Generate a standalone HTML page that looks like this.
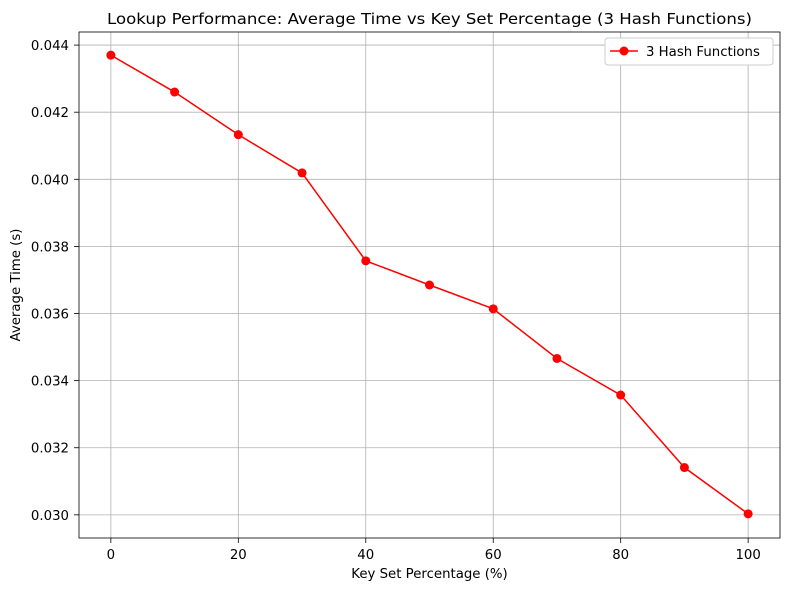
<!DOCTYPE html>
<html><head><meta charset="utf-8"><style>
body{margin:0;background:#fff;}
svg text{font-family:"DejaVu Sans","Liberation Sans",sans-serif;fill:#000;}
</style></head><body>
<svg id="chart" width="790" height="590" xmlns="http://www.w3.org/2000/svg"></svg>
<script>
const xValues=[0,10,20,30,40,50,60,70,80,90,100];
const yValues=[0.04370,0.04260,0.04133,0.04019,0.03757,0.03685,0.03614,0.03466,0.03357,0.03141,0.03003];
const xTicks=[0,20,40,60,80,100];
const yTicks=[0.030,0.032,0.034,0.036,0.038,0.040,0.042,0.044];
const L=79,R=780,T=32,B=538;
const xMin=-5,xMax=105,yMin=0.02931,yMax=0.04439;
const sx=v=>L+(v-xMin)/(xMax-xMin)*(R-L);
const sy=v=>B-(v-yMin)/(yMax-yMin)*(B-T);
const svg=document.getElementById('chart');
const NS='http://www.w3.org/2000/svg';
function mk(tag,attrs,parent){const e=document.createElementNS(NS,tag);for(const k in attrs)e.setAttribute(k,attrs[k]);(parent||svg).appendChild(e);return e;}
const grid=mk('g',{});


xTicks.forEach(t=>{
 mk('line',{x1:sx(t),x2:sx(t),y1:T,y2:B,stroke:'#b0b0b0','stroke-width':0.8},grid);
 mk('line',{x1:sx(t),x2:sx(t),y1:B,y2:B+5,stroke:'#000','stroke-width':0.8});
 const tx=mk('text',{x:sx(t),y:B+21,'text-anchor':'middle','font-size':13.3});
 tx.textContent=t;
 
 
});
yTicks.forEach(t=>{
 mk('line',{x1:L,x2:R,y1:sy(t),y2:sy(t),stroke:'#b0b0b0','stroke-width':0.8},grid);
 mk('line',{x1:L-5,x2:L,y1:sy(t),y2:sy(t),stroke:'#000','stroke-width':0.8});
 const tx=mk('text',{x:L-10,y:sy(t)+5,'text-anchor':'end','font-size':13.3});
 tx.textContent=t.toFixed(3);
 
 
});
const pts=xValues.map((x,i)=>sx(x)+','+sy(yValues[i])).join(' ');
const line=mk('polyline',{points:pts,fill:'none',stroke:'#ff0000','stroke-width':1.5});


xValues.forEach((x,i)=>{
 const c=mk('circle',{cx:sx(x),cy:sy(yValues[i]),r:4.5,fill:'#ff0000'});
 
 
});
const frame=mk('rect',{x:L,y:T,width:R-L,height:B-T,fill:'none',stroke:'#000','stroke-width':0.8});


const title=mk('text',{x:107,y:24,'font-size':15.5,textLength:645,lengthAdjust:'spacingAndGlyphs'});
title.textContent='Lookup Performance: Average Time vs Key Set Percentage (3 Hash Functions)';


const xt=mk('text',{x:(L+R)/2,y:578,'text-anchor':'middle','font-size':13.3});
xt.textContent='Key Set Percentage (%)';


const yt=mk('text',{x:20,y:(T+B)/2,'text-anchor':'middle','font-size':13.3,transform:'rotate(-90 20 '+((T+B)/2)+')'});
yt.textContent='Average Time (s)';


const lg=mk('g',{});


mk('rect',{x:605,y:38,width:168,height:27,rx:3,fill:'#fff',stroke:'#ccc','stroke-width':1},lg);
mk('line',{x1:610,x2:638,y1:51,y2:51,stroke:'#ff0000','stroke-width':1.5},lg);
mk('circle',{cx:624,cy:51,r:4.5,fill:'#ff0000'},lg);
const lt=mk('text',{x:646,y:56,'font-size':13.3},lg);
lt.textContent='3 Hash Functions';


</script>
</body></html>
